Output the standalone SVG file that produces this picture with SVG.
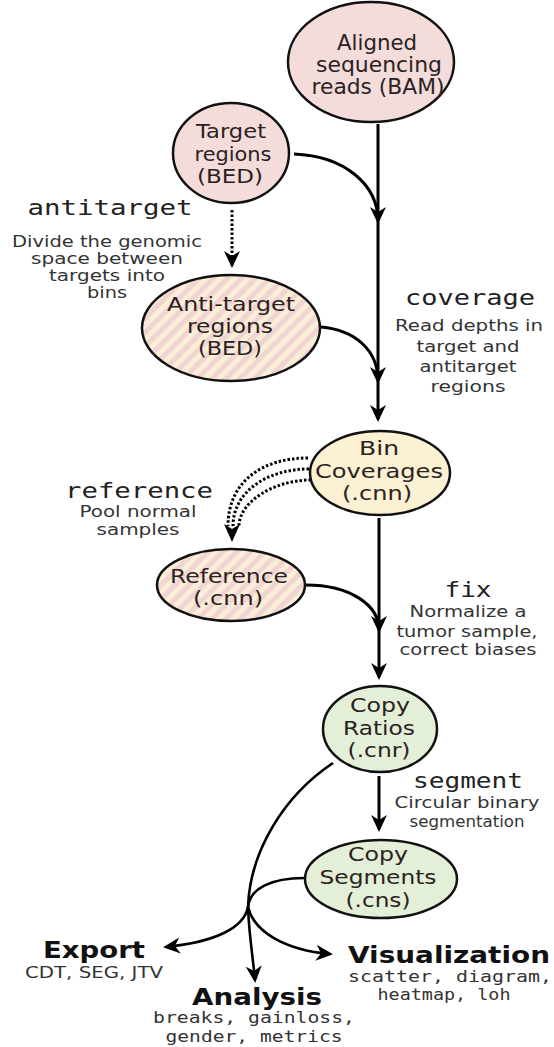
<svg xmlns="http://www.w3.org/2000/svg" width="554" height="1047" viewBox="0 0 554 1047">
<style>
.node{stroke:#111;stroke-width:2.5}
.pink{fill:#f4dcdb}
.yel{fill:#fcf1d2}
.grn{fill:#e3efd7}
.hatch{fill:url(#hatch)}
.nt{font-family:"DejaVu Sans",sans-serif;font-size:20px;fill:#2a2222;text-anchor:middle}
.mono{font-family:"DejaVu Sans Mono",monospace;font-size:22px;fill:#222;text-anchor:middle}
.desc{font-family:"DejaVu Sans",sans-serif;font-size:16.5px;fill:#333;text-anchor:middle}
.bold{font-family:"DejaVu Sans",sans-serif;font-weight:bold;font-size:23px;fill:#111;text-anchor:middle}
.smono{font-family:"DejaVu Sans Mono",monospace;font-size:16.5px;fill:#333;text-anchor:middle}
.con{fill:none;stroke:#000;stroke-width:3}
.dot{fill:none;stroke:#000;stroke-width:3;stroke-dasharray:2.5 2}
</style>
<defs>
<pattern id="hatch" patternUnits="userSpaceOnUse" width="10" height="10" patternTransform="rotate(45)">
<rect width="10" height="10" fill="#f1d5d3"/>
<rect width="5" height="10" fill="#faeed6"/>
</pattern>
<marker id="arr" markerUnits="userSpaceOnUse" markerWidth="30" markerHeight="30" refX="0" refY="0" orient="auto" overflow="visible">
<path d="M3,0 L-14,-8 L-9,0 L-14,8 Z" fill="#000"/>
</marker>
</defs>
<rect width="554" height="1047" fill="#fff"/>

<g id="connectors">
<path class="con" d="M378,124 L378,419" marker-end="url(#arr)"/>
<path class="con" d="M294,154 C345,156 378,185 378,221" marker-end="url(#arr)"/>
<path class="con" d="M321,327 C355,330 378,350 378,381" marker-end="url(#arr)"/>
<path class="dot" d="M232,210 L232,265" marker-end="url(#arr)"/>
<path class="dot" d="M308,458 C262,458 228,482 228,526"/>
<path class="dot" d="M309,469 C267,469 233,492 233,526"/>
<path class="dot" d="M311,480 C274,480 239,502 239,526"/>
<path d="M232,542 L224,524 L232,529 L240,524 Z" fill="#000"/>
<path class="con" d="M379,518 L379,677" marker-end="url(#arr)"/>
<path class="con" d="M306,585 C350,585 379,605 379,630" marker-end="url(#arr)"/>
<path class="con" d="M379,776 L379,829" marker-end="url(#arr)"/>
<path class="con" style="stroke-width:2.6" d="M333,763 C285,795 250,850 248,907"/>
<path class="con" style="stroke-width:2.6" d="M304,878 C272,878 250,888 248,907"/>
<path class="con" style="stroke-width:2.6" d="M248,907 C244,928 215,942 166,947" marker-end="url(#arr)"/>
<path class="con" style="stroke-width:2.6" d="M248,907 C249,935 253,958 255,980" marker-end="url(#arr)"/>
<path class="con" style="stroke-width:2.6" d="M248,907 C254,932 285,950 330,954" marker-end="url(#arr)"/>
</g>

<g id="bam">
<ellipse class="node pink" cx="371" cy="62" rx="83" ry="60"/>
<text class="nt" style="font-size:21px" x="377" y="50" textLength="80" lengthAdjust="spacingAndGlyphs">Aligned</text>
<text class="nt" style="font-size:21px" x="379" y="72" textLength="126" lengthAdjust="spacingAndGlyphs">sequencing</text>
<text class="nt" style="font-size:21px" x="378" y="94" textLength="133" lengthAdjust="spacingAndGlyphs">reads (BAM)</text>
</g>

<g id="target">
<ellipse class="node pink" cx="231" cy="153" rx="58" ry="50"/>
<text class="nt" x="231" y="138" textLength="70" lengthAdjust="spacingAndGlyphs">Target</text>
<text class="nt" x="233" y="161" textLength="77" lengthAdjust="spacingAndGlyphs">regions</text>
<text class="nt" x="230" y="183" textLength="66" lengthAdjust="spacingAndGlyphs">(BED)</text>
</g>

<g id="antitarget-label">
<text class="mono" x="110" y="215" textLength="165" lengthAdjust="spacingAndGlyphs">antitarget</text>
<text class="desc" x="107" y="247" textLength="190" lengthAdjust="spacingAndGlyphs">Divide the genomic</text>
<text class="desc" x="107" y="264" textLength="152" lengthAdjust="spacingAndGlyphs">space between</text>
<text class="desc" x="107" y="281" textLength="116" lengthAdjust="spacingAndGlyphs">targets into</text>
<text class="desc" x="107" y="298" textLength="40" lengthAdjust="spacingAndGlyphs">bins</text>
</g>

<g id="antitarget">
<ellipse class="node hatch" cx="231" cy="328" rx="89" ry="53"/>
<text class="nt" x="231" y="311" textLength="128" lengthAdjust="spacingAndGlyphs">Anti-target</text>
<text class="nt" x="230" y="333" textLength="86" lengthAdjust="spacingAndGlyphs">regions</text>
<text class="nt" x="230" y="355" textLength="64" lengthAdjust="spacingAndGlyphs">(BED)</text>
</g>

<g id="coverage-label">
<text class="mono" x="470" y="305" textLength="130" lengthAdjust="spacingAndGlyphs">coverage</text>
<text class="desc" x="469" y="331" textLength="148" lengthAdjust="spacingAndGlyphs">Read depths in</text>
<text class="desc" x="468" y="352" textLength="103" lengthAdjust="spacingAndGlyphs">target and</text>
<text class="desc" x="468" y="372" textLength="97" lengthAdjust="spacingAndGlyphs">antitarget</text>
<text class="desc" x="468" y="392" textLength="75" lengthAdjust="spacingAndGlyphs">regions</text>
</g>

<g id="bincov">
<ellipse class="node yel" cx="380" cy="473" rx="70" ry="42"/>
<text class="nt" x="379" y="455" textLength="40" lengthAdjust="spacingAndGlyphs">Bin</text>
<text class="nt" x="379" y="478" textLength="128" lengthAdjust="spacingAndGlyphs">Coverages</text>
<text class="nt" x="377" y="500" textLength="70" lengthAdjust="spacingAndGlyphs">(.cnn)</text>
</g>

<g id="reference-label">
<text class="mono" x="139" y="498" textLength="148" lengthAdjust="spacingAndGlyphs">reference</text>
<text class="desc" x="138" y="517" textLength="117" lengthAdjust="spacingAndGlyphs">Pool normal</text>
<text class="desc" x="138" y="535" textLength="83" lengthAdjust="spacingAndGlyphs">samples</text>
</g>

<g id="reference">
<ellipse class="node hatch" cx="231" cy="585" rx="74" ry="36"/>
<text class="nt" x="229" y="583" textLength="118" lengthAdjust="spacingAndGlyphs">Reference</text>
<text class="nt" x="228" y="605" textLength="70" lengthAdjust="spacingAndGlyphs">(.cnn)</text>
</g>

<g id="fix-label">
<text class="mono" x="468" y="597" textLength="47" lengthAdjust="spacingAndGlyphs">fix</text>
<text class="desc" x="468" y="617" textLength="117" lengthAdjust="spacingAndGlyphs">Normalize a</text>
<text class="desc" x="467" y="637" textLength="141" lengthAdjust="spacingAndGlyphs">tumor sample,</text>
<text class="desc" x="468" y="655" textLength="137" lengthAdjust="spacingAndGlyphs">correct biases</text>
</g>

<g id="copyratios">
<ellipse class="node grn" cx="380" cy="729" rx="57" ry="43"/>
<text class="nt" x="380" y="712" textLength="60" lengthAdjust="spacingAndGlyphs">Copy</text>
<text class="nt" x="379" y="735" textLength="72" lengthAdjust="spacingAndGlyphs">Ratios</text>
<text class="nt" x="379" y="757" textLength="63" lengthAdjust="spacingAndGlyphs">(.cnr)</text>
</g>

<g id="segment-label">
<text class="mono" x="468" y="788" textLength="110" lengthAdjust="spacingAndGlyphs">segment</text>
<text class="desc" x="467" y="808" textLength="145" lengthAdjust="spacingAndGlyphs">Circular binary</text>
<text class="desc" x="467" y="827" textLength="115" lengthAdjust="spacingAndGlyphs">segmentation</text>
</g>

<g id="copysegments">
<ellipse class="node grn" cx="381" cy="879" rx="76" ry="39"/>
<text class="nt" style="font-size:19px" x="378" y="861" textLength="60" lengthAdjust="spacingAndGlyphs">Copy</text>
<text class="nt" style="font-size:19px" x="378" y="884" textLength="117" lengthAdjust="spacingAndGlyphs">Segments</text>
<text class="nt" style="font-size:19px" x="378" y="907" textLength="65" lengthAdjust="spacingAndGlyphs">(.cns)</text>
</g>

<g id="export">
<text class="bold" x="94" y="958" textLength="102" lengthAdjust="spacingAndGlyphs">Export</text>
<text class="desc" x="94" y="978" textLength="138" lengthAdjust="spacingAndGlyphs">CDT, SEG, JTV</text>
</g>

<g id="analysis">
<text class="bold" x="257" y="1005" textLength="130" lengthAdjust="spacingAndGlyphs">Analysis</text>
<text class="smono" x="254" y="1023" textLength="202" lengthAdjust="spacingAndGlyphs">breaks, gainloss,</text>
<text class="smono" x="254" y="1042" textLength="177" lengthAdjust="spacingAndGlyphs">gender, metrics</text>
</g>

<g id="visualization">
<text class="bold" x="449" y="963" textLength="202" lengthAdjust="spacingAndGlyphs">Visualization</text>
<text class="smono" x="450" y="982" textLength="204" lengthAdjust="spacingAndGlyphs">scatter, diagram,</text>
<text class="smono" x="444" y="1000" textLength="133" lengthAdjust="spacingAndGlyphs">heatmap, loh</text>
</g>
</svg>
